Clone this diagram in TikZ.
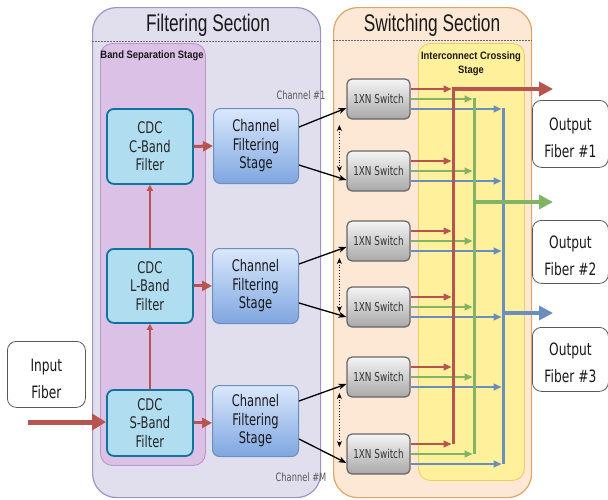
\documentclass[tikz,border=0pt]{standalone}
\usepackage{fontspec}
\setmainfont{Liberation Sans}
\newfontfamily\nf[FakeStretch=0.88]{Liberation Sans}
\newfontfamily\tf[FakeStretch=0.72]{Liberation Sans}
\newfontfamily\df[FakeStretch=0.72]{DejaVu Sans}
\usetikzlibrary{arrows.meta,calc}
\definecolor{filtF}{HTML}{E1DFEE}
\definecolor{filtB}{HTML}{9A96C2}
\definecolor{bandF}{HTML}{DCC1E6}
\definecolor{bandB}{HTML}{BA96CA}
\definecolor{swsF}{HTML}{FCE8D5}
\definecolor{swsB}{HTML}{E0A464}
\definecolor{icF}{HTML}{FFF09C}
\definecolor{icB}{HTML}{E8CF66}
\definecolor{cdcF}{HTML}{B1DDF0}
\definecolor{cdcB}{HTML}{10739E}
\definecolor{cfsT}{HTML}{DAE8FC}
\definecolor{cfsD}{HTML}{7EA6E0}
\definecolor{cfsB}{HTML}{6C8EBF}
\definecolor{swT}{HTML}{F5F5F5}
\definecolor{swD}{HTML}{A8A8A8}
\definecolor{swB}{HTML}{666666}
\definecolor{redC}{HTML}{B85450}
\definecolor{grnC}{HTML}{82B366}
\definecolor{bluC}{HTML}{6C8EBF}
\tikzset{
  sect/.style={draw, line width=1.2pt, anchor=north west, inner sep=0pt},
  sectitle/.style={font=\tf\fontsize{24}{26}\selectfont, text=black!90, anchor=base, inner sep=0pt},
  sublab/.style={font=\nf\bfseries\fontsize{10.7}{14}\selectfont, align=center, text=black!90},
  cdcbox/.style={draw=cdcB, fill=cdcF, line width=1.8pt, rounded corners=7pt, anchor=north west, align=center, inner sep=0pt, font=\df\fontsize{16}{18.5}\selectfont, text=black!85},
  cfsbox/.style={draw=cfsB, top color=cfsT, bottom color=cfsD, line width=1pt, rounded corners=7pt, anchor=north west, align=center, inner sep=0pt, font=\df\fontsize{16}{18.5}\selectfont, text=black!90},
  swbox/.style={draw=swB, top color=swT, bottom color=swD, line width=1.2pt, rounded corners=5pt, minimum width=63pt, minimum height=40pt, inner sep=0pt, font=\df\fontsize{12.3}{14}\selectfont, text=black!80},
  fibbox/.style={draw=black!65, fill=white, line width=0.8pt, rounded corners=9pt, anchor=north west, align=center, inner sep=0pt, font=\df\fontsize{17}{27}\selectfont, text=black!90},
  chan/.style={font=\df\fontsize{11.5}{13}\selectfont, text=black!65},
  sep/.style={draw=black!60, line width=0.6pt, dash pattern=on 1.5pt off 1.5pt},
  redh/.style={draw=redC, line width=3pt, -{Triangle[length=10pt,width=10pt]}},
  redv/.style={draw=redC, line width=2pt, -{Triangle[length=6pt,width=6pt]}},
  inarr/.style={draw=redC, line width=5pt, -{Triangle[length=14pt,width=16pt]}},
  blk/.style={draw=black, line width=1.3pt, -{Stealth[length=8pt,width=6pt]}},
  dotarr/.style={draw=black, line width=0.8pt, dotted, {Stealth[length=6pt,width=5pt]}-{Stealth[length=6pt,width=5pt]}},
  thinr/.style={draw=redC, line width=1.4pt, -{Triangle[length=8pt,width=7pt]}},
  thing/.style={draw=grnC, line width=1.4pt, -{Triangle[length=8pt,width=7pt]}},
  thinb/.style={draw=bluC, line width=1.4pt, -{Triangle[length=8pt,width=7pt]}},
  vr/.style={draw=redC, line width=3pt},
  vg/.style={draw=grnC, line width=3pt},
  vb/.style={draw=bluC, line width=3pt},
  outr/.style={draw=redC, line width=4pt, -{Triangle[length=14pt,width=14pt]}},
  outg/.style={draw=grnC, line width=4pt, -{Triangle[length=14pt,width=14pt]}},
  outb/.style={draw=bluC, line width=4pt, -{Triangle[length=14pt,width=14pt]}},
}
\begin{document}
\begin{tikzpicture}[x=1pt,y=-1pt]
\useasboundingbox (0,0) rectangle (608,499);
% sections
\node[sect, draw=filtB, fill=filtF, rounded corners=24pt, minimum width=228pt, minimum height=490pt] (filt) at (92,7) {};
\node[sect, draw=swsB, fill=swsF, rounded corners=24pt, minimum width=198pt, minimum height=490pt] (sws) at (333,7) {};
\draw[sep] (filt.west |- 0,41) -- (filt.east |- 0,41);
\draw[sep] (sws.west |- 0,40) -- (sws.east |- 0,40);
\node[sectitle] (ft) at (208,31) {Filtering Section};
\node[sectitle] (st) at (432,31) {Switching Section};
\node[sect, draw=bandB, fill=bandF, line width=0.9pt, rounded corners=12pt, minimum width=105pt, minimum height=422pt] (band) at (100,43) {};
\node[sect, draw=icB, fill=icF, line width=0.9pt, rounded corners=12pt, minimum width=106pt, minimum height=437pt] (ic) at (418,43) {};
\node[sublab] (bandl) at (152,56) {Band Separation Stage};
\node[sublab] (icl) at (471,64) {Interconnect Crossing\\Stage};
% CDC filters
\node[cdcbox, minimum width=86pt, minimum height=75pt] (C) at (106,108) {CDC\\C-Band\\Filter};
\node[cdcbox, minimum width=86pt, minimum height=74pt] (L) at (106,248) {CDC\\L-Band\\Filter};
\node[cdcbox, minimum width=86pt, minimum height=66pt] (S) at (106,389) {CDC\\S-Band\\Filter};
% channel filtering
\node[cfsbox, minimum width=85pt, minimum height=75pt] (F1) at (213,108) {Channel\\Filtering\\Stage};
\node[cfsbox, minimum width=86pt, minimum height=75pt] (F2) at (212,248) {Channel\\Filtering\\Stage};
\node[cfsbox, minimum width=86pt, minimum height=71pt] (F3) at (212,385) {Channel\\Filtering\\Stage};
% fibers
\node[fibbox, minimum width=78pt, minimum height=66pt] (inf) at (7,341) {\rule{0pt}{21pt}Input\\Fiber};
\node[fibbox, minimum width=76pt, minimum height=67pt] (o1) at (532,100) {\rule{0pt}{20pt}Output\\Fiber \#1};
\node[fibbox, minimum width=76pt, minimum height=63pt] (o2) at (532,220) {\rule{0pt}{20pt}Output\\Fiber \#2};
\node[fibbox, minimum width=76pt, minimum height=64pt] (o3) at (532,327) {\rule{0pt}{20pt}Output\\Fiber \#3};
% switches
\foreach \i/\yy in {1/99,2/171,3/241,4/307,5/377,6/454}{
  \node[swbox] (s\i) at (378.5,\yy) {1XN Switch};
}
\node[chan] (ch1) at (301,95) {Channel \#1};
\node[chan] (chM) at (301,477) {Channel \#M};
% band arrows
\coordinate (inS) at (28,422);
\draw[inarr] (inS) -- (inS -| S.west);
\draw[redv] (S.north) -- (L.south);
\draw[redv] (L.north) -- (C.south);
\draw[redh] (C.east) -- (F1.west);
\draw[redh] (L.east) -- (L.east -| F2.west);
\draw[redh] (S.east) -- (S.east -| F3.west);
% filtering to switches
\draw[blk] ($(F1.east)+(0,-19)$) -- ($(s1.west)+(0,9)$);
\draw[blk] ($(F1.east)+(0,19)$) -- ($(s2.west)+(0,9)$);
\draw[blk] ($(F2.east)+(0,-22)$) -- ($(s3.west)+(0,6)$);
\draw[blk] ($(F2.east)+(0,17)$) -- ($(s4.west)+(0,10)$);
\draw[blk] ($(F3.east)+(0,-20)$) -- ($(s5.west)+(0,7)$);
\draw[blk] ($(F3.east)+(0,18)$) -- ($(s6.west)+(0,9)$);
\draw[dotarr] ($(s1.west)+(-7,26)$) -- ($(s2.west)+(-7,1)$);
\draw[dotarr] ($(s3.west)+(-7,17)$) -- ($(s4.west)+(-7,5)$);
\draw[dotarr] ($(s5.west)+(-7,16)$) -- ($(s6.west)+(-7,-7)$);
% interconnect
\coordinate (rx) at (453,0);
\coordinate (gx) at (474,0);
\coordinate (bx) at (503,0);
\coordinate (ex) at (553,0);
\foreach \i in {1,...,6}{
  \coordinate (r\i) at ($(s\i.east)+(0,-10)$);
  \coordinate (g\i) at (s\i.east);
  \coordinate (b\i) at ($(s\i.east)+(0,10)$);
  \draw[thinr] (r\i) -- ($(r\i -| rx)+(-1.5,0)$);
  \draw[thing] (g\i) -- ($(g\i -| gx)+(-1.5,0)$);
  \draw[thinb] (b\i) -- ($(b\i -| bx)+(-1.5,0)$);
}
\draw[vb] ($(b1 -| bx)+(0,-1.5)$) -- (b6 -| bx);
\draw[vg] ($(g1 -| gx)+(0,-1.5)$) -- (g6 -| gx);
\draw[vr] ($(r1 -| rx)+(0,-1.5)$) -- (r6 -| rx);
\coordinate (go) at (553,202);
\coordinate (bo) at (553,313);
\draw[outr] ($(r1 -| rx)+(-1.5,0)$) -- (r1 -| ex);
\draw[outg] ($(go -| gx)+(-1.5,0)$) -- (go);
\draw[outb] ($(bo -| bx)+(-1.5,0)$) -- (bo);
\end{tikzpicture}
\end{document}
